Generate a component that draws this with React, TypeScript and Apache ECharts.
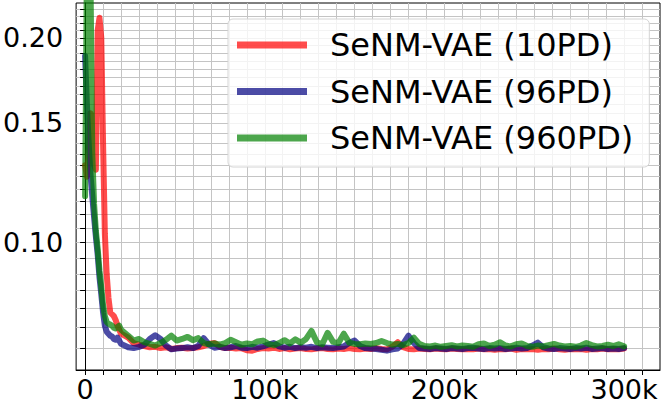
import React, { useEffect, useRef } from "react";
import * as echarts from "echarts";

// training steps (in thousands)
const stepsK = [
  0, 1, 2, 3, 4, 5, 6, 7, 8, 9, 10, 11, 12, 13, 14, 15, 16, 17, 18, 19, 20,
  24, 27, 30, 33, 36, 39, 42, 45, 48, 51,
  54, 57, 60, 63, 66, 69, 72, 75, 78, 81,
  84, 87, 90, 93, 96, 99, 102, 105, 108, 111,
  114, 117, 120, 123, 126, 129, 132, 135, 138, 141,
  144, 147, 150, 153, 156, 159, 162, 165, 168, 171,
  174, 177, 180, 183, 186, 189, 192, 195, 198, 201,
  204, 207, 210, 213, 216, 219, 222, 225, 228, 231,
  234, 237, 240, 243, 246, 249, 252, 255, 258, 261,
  264, 267, 270, 273, 276, 279, 282, 285, 288, 291,
  294, 297, 300,
];

const red10PD = [
  0.130, 0.125, 0.135, 0.155, 0.150, 0.130, 0.128, 0.205, 0.214, 0.200, 0.140,
  0.103, 0.090, 0.083, 0.079, 0.0785, 0.078, 0.077, 0.0755, 0.0745, 0.0735,
  0.0725, 0.0712, 0.0708, 0.0705, 0.0702, 0.0703, 0.0700, 0.0702, 0.0698, 0.0700,
  0.0701, 0.0699, 0.0700, 0.0702, 0.0705, 0.0710, 0.0712, 0.0703, 0.0700, 0.0701,
  0.0699, 0.0700, 0.0695, 0.0694, 0.0698, 0.0700, 0.0699, 0.0701, 0.0698, 0.0700,
  0.0697, 0.0699, 0.0700, 0.0698, 0.0697, 0.0699, 0.0700, 0.0698, 0.0697, 0.0699,
  0.0698, 0.0700, 0.0698, 0.0697, 0.0699, 0.0698, 0.0700, 0.0698, 0.0697, 0.0703,
  0.0714, 0.0702, 0.0698, 0.0697, 0.0699, 0.0698, 0.0697, 0.0699, 0.0698, 0.0697,
  0.0699, 0.0698, 0.0697, 0.0698, 0.0697, 0.0699, 0.0697, 0.0698, 0.0696, 0.0698,
  0.0697, 0.0699, 0.0696, 0.0698, 0.0697, 0.0698, 0.0696, 0.0698, 0.0697, 0.0699,
  0.0697, 0.0696, 0.0698, 0.0697, 0.0698, 0.0696, 0.0698, 0.0697, 0.0699, 0.0697,
  0.0698, 0.0697, 0.0699,
];

const blue96PD = [
  0.188, 0.160, 0.140, 0.126, 0.117, 0.109, 0.102, 0.096, 0.089, 0.084, 0.079,
  0.0755, 0.074, 0.0735, 0.073, 0.0728, 0.0722, 0.072, 0.0725, 0.0718, 0.071,
  0.0702, 0.0700, 0.0703, 0.0708, 0.0722, 0.0731, 0.0722, 0.0706, 0.0697, 0.0699,
  0.0700, 0.0702, 0.0700, 0.0705, 0.0724, 0.0708, 0.0701, 0.0703, 0.0700, 0.0702,
  0.0705, 0.0701, 0.0700, 0.0703, 0.0701, 0.0704, 0.0708, 0.0712, 0.0704, 0.0701,
  0.0703, 0.0700, 0.0702, 0.0701, 0.0703, 0.0700, 0.0702, 0.0701, 0.0700, 0.0702,
  0.0704, 0.0712, 0.0718, 0.0705, 0.0700, 0.0699, 0.0698, 0.0696, 0.0694, 0.0697,
  0.0699, 0.0710, 0.0730, 0.0712, 0.0700, 0.0699, 0.0698, 0.0700, 0.0699, 0.0698,
  0.0700, 0.0699, 0.0698, 0.0700, 0.0701, 0.0699, 0.0698, 0.0700, 0.0699, 0.0700,
  0.0698, 0.0699, 0.0701, 0.0699, 0.0700, 0.0706, 0.0713, 0.0702, 0.0699, 0.0698,
  0.0700, 0.0699, 0.0698, 0.0700, 0.0699, 0.0701, 0.0698, 0.0699, 0.0700, 0.0698,
  0.0699, 0.0698, 0.0700,
];

const green960PD = [
  0.117, 0.255, 0.285, 0.245, 0.135, 0.114, 0.104, 0.098, 0.091, 0.086, 0.081,
  0.078, 0.0765, 0.076, 0.0758, 0.0755, 0.075, 0.0748, 0.0752, 0.0755, 0.0745,
  0.0730, 0.0718, 0.0722, 0.0714, 0.0710, 0.0706, 0.0712, 0.0720, 0.0730, 0.0718,
  0.0722, 0.0727, 0.0719, 0.0724, 0.0712, 0.0709, 0.0711, 0.0708, 0.0712, 0.0720,
  0.0714, 0.0708, 0.0711, 0.0709, 0.0716, 0.0718, 0.0710, 0.0707, 0.0712, 0.0719,
  0.0711, 0.0721, 0.0713, 0.0722, 0.0742, 0.0714, 0.0709, 0.0737, 0.0715, 0.0712,
  0.0735, 0.0713, 0.0710, 0.0709, 0.0711, 0.0710, 0.0712, 0.0717, 0.0712, 0.0708,
  0.0710, 0.0707, 0.0712, 0.0725, 0.0710, 0.0705, 0.0704, 0.0706, 0.0703, 0.0705,
  0.0707, 0.0704, 0.0706, 0.0705, 0.0703, 0.0709, 0.0711, 0.0705, 0.0708, 0.0714,
  0.0706, 0.0704, 0.0709, 0.0711, 0.0705, 0.0703, 0.0706, 0.0704, 0.0707, 0.0710,
  0.0706, 0.0704, 0.0705, 0.0703, 0.0706, 0.0712, 0.0707, 0.0704, 0.0705, 0.0708,
  0.0705, 0.0709, 0.0704,
];

const seriesNames = ["SeNM-VAE (10PD)", "SeNM-VAE (96PD)", "SeNM-VAE (960PD)"];
const seriesColors = ["rgba(255,0,0,0.7)", "rgba(0,0,128,0.7)", "rgba(0,128,0,0.7)"];

const xLabelValues = [0, 100000, 200000, 300000];
const xTickValues: number[] = [];
for (let i = 0; i <= 31; i++) xTickValues.push(i * 10000);

const yLabelValues = [0.1, 0.15, 0.2];
const yTickValues: number[] = [];
for (let i = 14; i <= 44; i++) yTickValues.push(Math.round(i * 5) / 1000);

const FONT = "DejaVu Sans";

export default function App() {
  const ref = useRef<HTMLDivElement>(null);
  useEffect(() => {
    if (!ref.current) return;
    const chart = echarts.init(ref.current, undefined, { renderer: "svg" });
    const allData = [red10PD, blue96PD, green960PD];
    const option: any = {
      animation: false,
      grid: {
        left: 68,
        right: 5,
        top: 3,
        bottom: 36,
        show: true,
        borderColor: "#000",
        borderWidth: 1,
        backgroundColor: "transparent",
      },
      xAxis: {
        type: "value",
        min: -5000,
        max: 320000,
        axisLine: { show: true, onZero: false, lineStyle: { color: "#000", width: 1 } },
        axisTick: {
          show: true,
          length: 5,
          customValues: xTickValues,
          lineStyle: { color: "#000", width: 1 },
        },
        axisLabel: {
          customValues: xLabelValues,
          formatter: (v: number) => (v === 0 ? "0" : `${Math.round(v / 1000)}k`),
          fontSize: 27,
          fontFamily: FONT,
          color: "#000",
          margin: 6,
        },
        splitLine: { show: true, lineStyle: { color: "#c4c4c4", width: 1 } },
      },
      yAxis: {
        type: "log",
        logBase: 10,
        min: 0.065,
        max: 0.225,
        axisLine: { show: true, lineStyle: { color: "#000", width: 1 } },
        axisTick: {
          show: true,
          length: 5,
          customValues: yTickValues,
          lineStyle: { color: "#000", width: 1 },
        },
        axisLabel: {
          customValues: yLabelValues,
          formatter: (v: number) => Number(v).toFixed(2),
          fontSize: 27,
          fontFamily: FONT,
          color: "#000",
          margin: 13,
        },
        splitLine: { show: true, lineStyle: { color: "#c4c4c4", width: 1 } },
      },
      legend: {
        orient: "vertical",
        left: 228,
        top: 19,
        data: seriesNames,
        icon: "rect",
        itemWidth: 70,
        itemHeight: 7,
        itemGap: 14.5,
        padding: [10, 16, 13, 9],
        backgroundColor: "rgba(255,255,255,0.8)",
        borderColor: "#d4d4d4",
        borderWidth: 1,
        borderRadius: 5,
        selectedMode: false,
        textStyle: {
          fontSize: 32,
          fontFamily: FONT,
          color: "#000",
          lineHeight: 32,
          padding: [0, 0, 0, 18],
        },
      },
      series: seriesNames.map((name, si) => ({
        name,
        type: "line",
        color: seriesColors[si],
        showSymbol: false,
        symbol: "none",
        clip: true,
        lineStyle: { width: 6, color: seriesColors[si], join: "round", cap: "round" },
        itemStyle: { color: seriesColors[si] },
        data: stepsK.map((k, i) => [k * 1000, allData[si][i]]),
      })),
    };
    chart.setOption(option);
    return () => chart.dispose();
  }, []);
  return (
    <div
      ref={ref}
      style={{ position: "absolute", left: 0, top: 0, width: 665, height: 406 }}
    />
  );
}
